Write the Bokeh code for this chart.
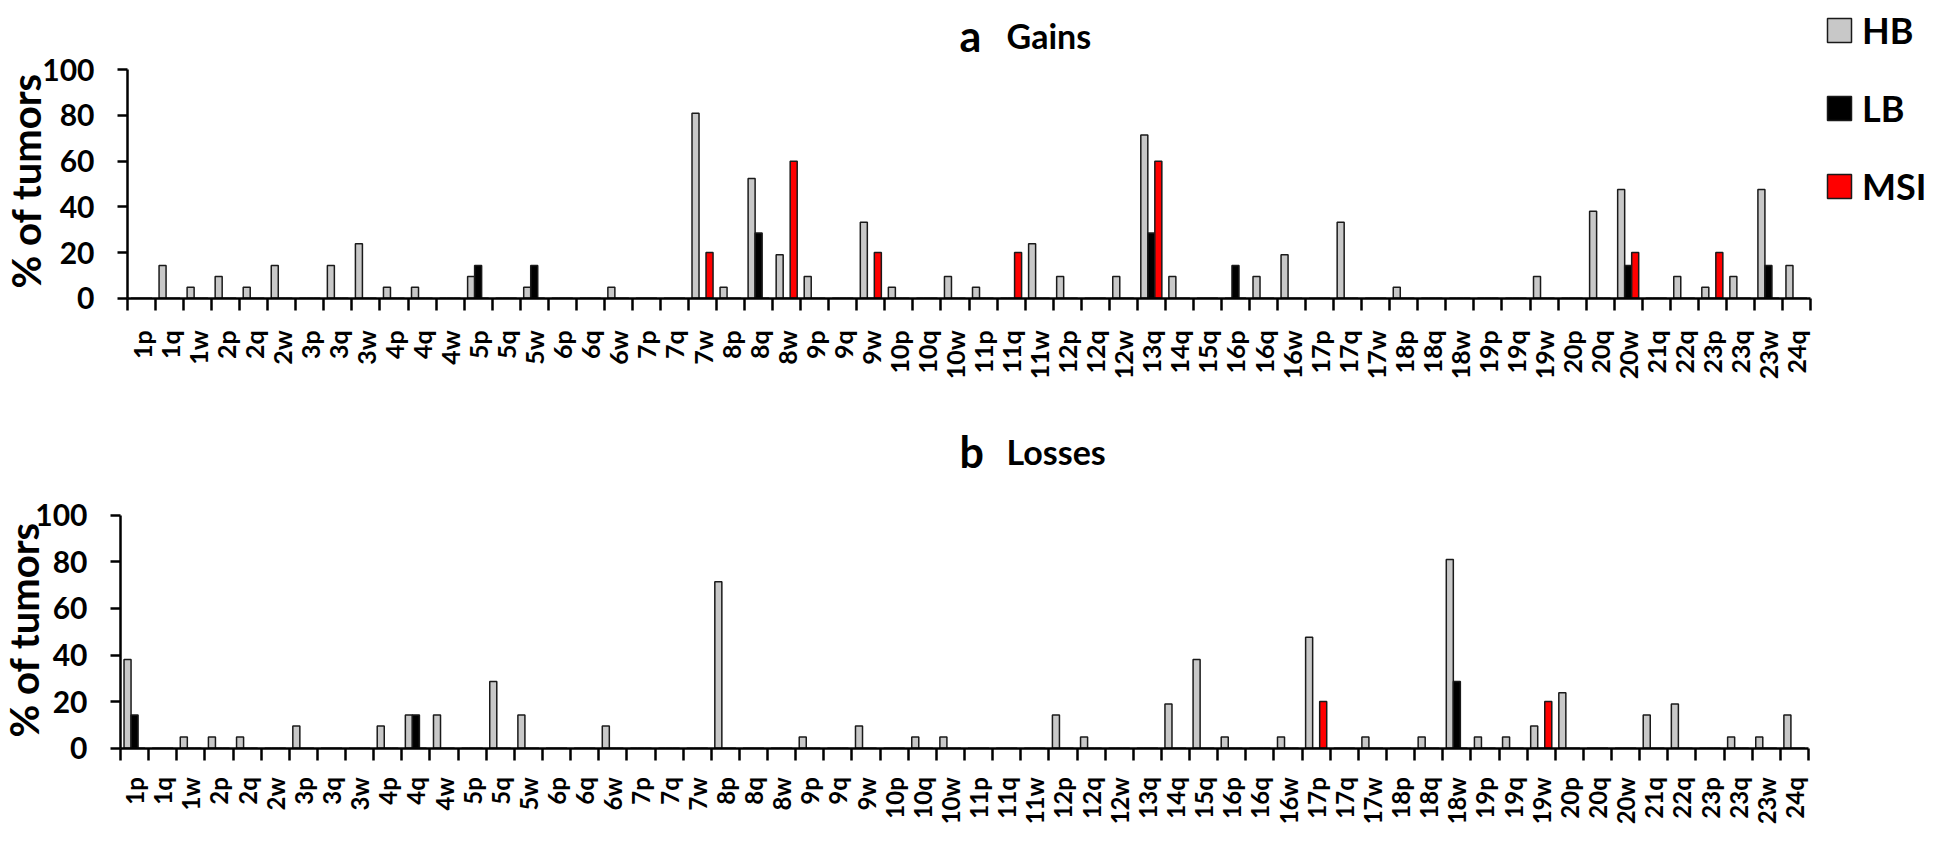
from math import pi
from bokeh.plotting import figure
from bokeh.models import (Range1d, FixedTicker, LinearAxis, Legend, LegendItem, Label,
                          ColumnDataSource, CustomJSTickFormatter)
from bokeh.layouts import column
from bokeh.transform import dodge
from bokeh.embed import file_html
from bokeh.resources import INLINE

categories = ["1p", "1q", "1w", "2p", "2q", "2w", "3p", "3q", "3w", "4p", "4q", "4w",
              "5p", "5q", "5w", "6p", "6q", "6w", "7p", "7q", "7w", "8p", "8q", "8w",
              "9p", "9q", "9w", "10p", "10q", "10w", "11p", "11q", "11w", "12p", "12q", "12w",
              "13q", "14q", "15q", "16p", "16q", "16w", "17p", "17q", "17w", "18p", "18q", "18w",
              "19p", "19q", "19w", "20p", "20q", "20w", "21q", "22q", "23p", "23q", "23w", "24q"]

gain_hb = [0, 14.3, 4.8, 9.5, 4.8, 14.3, 0, 14.3, 23.8, 4.8, 4.8, 0,
           9.5, 0, 4.8, 0, 0, 4.8, 0, 0, 81.0, 4.8, 52.4, 19.0,
           9.5, 0, 33.3, 4.8, 0, 9.5, 4.8, 0, 23.8, 9.5, 0, 9.5,
           71.4, 9.5, 0, 0, 9.5, 19.0, 0, 33.3, 0, 4.8, 0, 0,
           0, 0, 9.5, 0, 38.1, 47.6, 0, 9.5, 4.8, 9.5, 47.6, 14.3]
gain_lb = [0, 0, 0, 0, 0, 0, 0, 0, 0, 0, 0, 0,
           14.3, 0, 14.3, 0, 0, 0, 0, 0, 0, 0, 28.6, 0,
           0, 0, 0, 0, 0, 0, 0, 0, 0, 0, 0, 0,
           28.6, 0, 0, 14.3, 0, 0, 0, 0, 0, 0, 0, 0,
           0, 0, 0, 0, 0, 14.3, 0, 0, 0, 0, 14.3, 0]
gain_msi = [0, 0, 0, 0, 0, 0, 0, 0, 0, 0, 0, 0,
            0, 0, 0, 0, 0, 0, 0, 0, 20, 0, 0, 60,
            0, 0, 20, 0, 0, 0, 0, 20, 0, 0, 0, 0,
            60, 0, 0, 0, 0, 0, 0, 0, 0, 0, 0, 0,
            0, 0, 0, 0, 0, 20, 0, 0, 20, 0, 0, 0]

loss_hb = [38.1, 0, 4.8, 4.8, 4.8, 0, 9.5, 0, 0, 9.5, 14.3, 14.3,
           0, 28.6, 14.3, 0, 0, 9.5, 0, 0, 0, 71.4, 0, 0,
           4.8, 0, 9.5, 0, 4.8, 4.8, 0, 0, 0, 14.3, 4.8, 0,
           0, 19.0, 38.1, 4.8, 0, 4.8, 47.6, 0, 4.8, 0, 4.8, 81.0,
           4.8, 4.8, 9.5, 23.8, 0, 0, 14.3, 19.0, 0, 4.8, 4.8, 14.3]
loss_lb = [14.3, 0, 0, 0, 0, 0, 0, 0, 0, 0, 14.3, 0,
           0, 0, 0, 0, 0, 0, 0, 0, 0, 0, 0, 0,
           0, 0, 0, 0, 0, 0, 0, 0, 0, 0, 0, 0,
           0, 0, 0, 0, 0, 0, 0, 0, 0, 0, 0, 28.6,
           0, 0, 0, 0, 0, 0, 0, 0, 0, 0, 0, 0]
loss_msi = [0, 0, 0, 0, 0, 0, 0, 0, 0, 0, 0, 0,
            0, 0, 0, 0, 0, 0, 0, 0, 0, 0, 0, 0,
            0, 0, 0, 0, 0, 0, 0, 0, 0, 0, 0, 0,
            0, 0, 0, 0, 0, 0, 20, 0, 0, 0, 0, 0,
            0, 0, 20, 0, 0, 0, 0, 0, 0, 0, 0, 0]

y_ticks = [0, 20, 40, 60, 80, 100]
series_names = ["HB", "LB", "MSI"]
series_colors = ["#c8c8c8", "#000000", "#ff0000"]
y_label = "% of tumors"

FONT = "Lato"
FIG_W = 1930


def make_panel(hb, lb, msi, letter, title, height, px0, px60, py0, py100,
               ylab_x, ylab_y, title_y, xlab_size, xlab_standoff, legend):
    """px0/px60: figure-pixel x of category edge 0 and 60; py0/py100: figure-pixel y of 0 and 100."""
    n = len(categories)
    ux = (px60 - px0) / n
    uy = (py0 - py100) / 100.0
    x_range = Range1d(-px0 / ux, n + (FIG_W - px60) / ux)
    y_range = Range1d(-(height - py0) / uy, 100 + py100 / uy)

    src = ColumnDataSource(dict(pos=[i + 0.5 for i in range(n)], hb=hb, lb=lb, msi=msi))
    p = figure(width=FIG_W, height=height, output_backend="svg", toolbar_location=None,
               x_range=x_range, y_range=y_range, x_axis_type=None, y_axis_type=None,
               min_border=0)
    p.outline_line_color = None
    p.grid.visible = False
    p.background_fill_color = "white"
    p.border_fill_color = "white"

    renderers = []
    for col, off, color in zip(["hb", "lb", "msi"], [-0.25, 0.0, 0.25], series_colors):
        r = p.vbar(x=dodge("pos", off), top=col, width=0.25, bottom=0, source=src,
                   fill_color=color, line_color="#1a1a1a", line_width=1.5)
        renderers.append(r)

    xaxis = LinearAxis(
        fixed_location=0, bounds=(0, n),
        ticker=FixedTicker(ticks=[i + 0.5 for i in range(n)], minor_ticks=list(range(n + 1))),
        formatter=CustomJSTickFormatter(args=dict(names=categories),
                                        code="return names[Math.floor(tick)]"),
        major_label_orientation=pi / 2,
        major_tick_out=0, major_tick_in=0,
        minor_tick_out=12, minor_tick_in=0,
        minor_tick_line_width=2.5, minor_tick_line_color="black",
        axis_line_width=2.5, axis_line_color="black",
        major_label_text_font=FONT, major_label_text_font_style="bold",
        major_label_text_font_size=xlab_size, major_label_text_color="black",
        major_label_standoff=xlab_standoff)
    p.add_layout(xaxis, "below")

    yaxis = LinearAxis(
        fixed_location=0, bounds=(0, 100),
        ticker=FixedTicker(ticks=y_ticks),
        major_tick_out=10, major_tick_in=0, minor_tick_out=0, minor_tick_in=0,
        major_tick_line_width=2.5, major_tick_line_color="black",
        axis_line_width=2.5, axis_line_color="black",
        major_label_text_font=FONT, major_label_text_font_style="bold",
        major_label_text_font_size="30px", major_label_text_color="black",
        major_label_standoff=23)
    p.add_layout(yaxis, "left")

    p.add_layout(Label(x=ylab_x, y=ylab_y, x_units="screen", y_units="screen", angle=pi / 2,
                       text=y_label, text_font=FONT, text_font_style="bold",
                       text_font_size="40px", text_color="black",
                       text_baseline="alphabetic", text_align="left"))

    p.add_layout(Label(x=959, y=title_y, x_units="screen", y_units="screen",
                       text=letter, text_font=FONT, text_font_style="bold",
                       text_font_size="43px", text_color="black",
                       text_baseline="alphabetic", text_align="left"))
    p.add_layout(Label(x=1006, y=title_y, x_units="screen", y_units="screen",
                       text=title, text_font=FONT, text_font_style="bold",
                       text_font_size="34px", text_color="black",
                       text_baseline="alphabetic", text_align="left"))

    if legend:
        items = [LegendItem(label=nm, renderers=[r]) for nm, r in zip(series_names, renderers)]
        lg = Legend(items=items, location=(1824, 204), orientation="vertical",
                    glyph_width=30, glyph_height=30, label_height=30,
                    label_standoff=8, spacing=34, padding=0, margin=0,
                    border_line_color=None, background_fill_alpha=0,
                    label_text_font=FONT, label_text_font_style="bold",
                    label_text_font_size="36px", label_text_color="black")
        p.add_layout(lg)
    return p


top = make_panel(gain_hb, gain_lb, gain_msi, "a", "Gains", 412,
                 127, 1810, 297.7, 69.3, 25, 124, 377, "25px", 20, True)
bottom = make_panel(loss_hb, loss_lb, loss_msi, "b", "Losses", 413,
                    120, 1808, 335.7, 102.7, 23, 88, 374, "24px", 17, False)

layout = column(top, bottom, spacing=0)
open("out.html", "w").write(file_html(layout, INLINE))
